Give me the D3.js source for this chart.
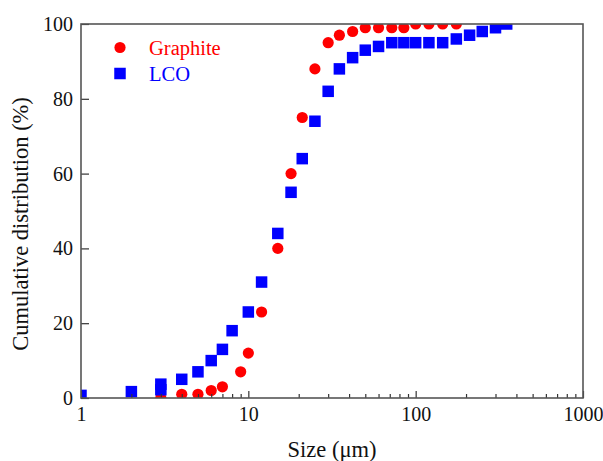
<!DOCTYPE html>
<html>
<head>
<meta charset="utf-8">
<script src="https://cdn.jsdelivr.net/npm/d3@7/dist/d3.min.js"></script>
<style>
  html, body { margin: 0; padding: 0; background: #fff; }
  svg { display: block; }
  text { font-family: "Liberation Serif", "Times New Roman", serif; }
</style>
</head>
<body>
<svg id="chart" width="603" height="461"></svg>
<script>
// Particle size (µm) and cumulative distribution (%) for each powder
const graphiteSize = [3, 4, 5, 6, 7, 9, 10, 12, 15, 18, 21, 25, 30, 35, 42, 50, 60, 72, 85, 100, 120, 145, 175];
const graphiteCum  = [0, 1, 1, 2, 3, 7, 12, 23, 40, 60, 75, 88, 95, 97, 98, 99, 99, 99, 99, 100, 100, 100, 100];

const lcoSize = [1, 2, 3, 3, 4, 5, 6, 7, 8, 10, 12, 15, 18, 21, 25, 30, 35, 42, 50, 60, 72, 85, 100, 120, 145, 175, 210, 250, 300, 350];
const lcoCum  = [0.7, 1.7, 3.7, 2.2, 5, 7, 10, 13, 18, 23, 31, 44, 55, 64, 74, 82, 88, 91, 93, 94, 95, 95, 95, 95, 95, 96, 97, 98, 99, 100];

const xMajorTicks = [1, 10, 100, 1000];
const xMinorTicks = [2, 3, 4, 5, 6, 7, 8, 9, 20, 30, 40, 50, 60, 70, 80, 90, 200, 300, 400, 500, 600, 700, 800, 900];
const yTicks = [0, 20, 40, 60, 80, 100];

const seriesNames = ["Graphite", "LCO"];
const seriesColors = ["#ff0000", "#0000ff"];

const plotLeft = 81, plotRight = 583, plotTop = 24, plotBottom = 398;
const tickFont = 20, titleFont = 22.5, legendFont = 20.5;

const svg = d3.select("#chart");

const x = d3.scaleLog().domain([1, 1000]).range([plotLeft, plotRight]);
const y = d3.scaleLinear().domain([0, 100]).range([plotBottom, plotTop]);

svg.append("defs").append("clipPath").attr("id", "plot-clip")
  .append("rect")
  .attr("x", plotLeft).attr("y", plotTop)
  .attr("width", plotRight - plotLeft).attr("height", plotBottom - plotTop);

// Markers
const plot = svg.append("g").attr("clip-path", "url(#plot-clip)");

plot.append("g").selectAll("circle")
  .data(graphiteSize.map((s, i) => [s, graphiteCum[i]]))
  .join("circle")
  .attr("cx", d => x(d[0]))
  .attr("cy", d => y(d[1]))
  .attr("r", 5.6)
  .attr("fill", seriesColors[0]);

const sq = 11.5;
plot.append("g").selectAll("rect")
  .data(lcoSize.map((s, i) => [s, lcoCum[i]]))
  .join("rect")
  .attr("x", d => x(d[0]) - sq / 2)
  .attr("y", d => y(d[1]) - sq / 2)
  .attr("width", sq)
  .attr("height", sq)
  .attr("fill", seriesColors[1]);

// Axes (ticks point into the plot)
const xAxis = svg.append("g")
  .attr("transform", `translate(0,${plotBottom})`)
  .call(d3.axisBottom(x).tickValues(xMajorTicks).tickFormat(d3.format("d"))
    .tickSize(-7).tickPadding(9));
xAxis.select(".domain").remove();
xAxis.selectAll("line").attr("stroke", "#333").attr("stroke-width", 1.2);
xAxis.selectAll("text").attr("font-size", tickFont).attr("fill", "#111")
  .attr("font-family", "Liberation Serif, Times New Roman, serif");

const xMinor = svg.append("g")
  .attr("transform", `translate(0,${plotBottom})`)
  .call(d3.axisBottom(x).tickValues(xMinorTicks).tickFormat("").tickSize(-4));
xMinor.select(".domain").remove();
xMinor.selectAll("line").attr("stroke", "#333").attr("stroke-width", 1.2);

const yAxis = svg.append("g")
  .attr("transform", `translate(${plotLeft},0)`)
  .call(d3.axisLeft(y).tickValues(yTicks).tickSize(-8).tickPadding(8));
yAxis.select(".domain").remove();
yAxis.selectAll("line").attr("stroke", "#333").attr("stroke-width", 1.2);
yAxis.selectAll("text").attr("font-size", tickFont).attr("fill", "#111")
  .attr("font-family", "Liberation Serif, Times New Roman, serif");

// Frame
svg.append("rect")
  .attr("x", plotLeft).attr("y", plotTop)
  .attr("width", plotRight - plotLeft).attr("height", plotBottom - plotTop)
  .attr("fill", "none")
  .attr("stroke", "#555")
  .attr("stroke-width", 1.6);

// Axis titles
svg.append("text")
  .attr("x", (plotLeft + plotRight) / 2)
  .attr("y", 457)
  .attr("text-anchor", "middle")
  .attr("font-size", titleFont)
  .attr("fill", "#111")
  .text("Size (\u03bcm)");

svg.append("text")
  .attr("transform", "translate(28,224) rotate(-90)")
  .attr("text-anchor", "middle")
  .attr("font-size", titleFont)
  .attr("fill", "#111")
  .text("Cumulative distribution (%)");

// Legend
const legend = svg.append("g");
legend.append("circle").attr("cx", 120).attr("cy", 47.5).attr("r", 5.6).attr("fill", seriesColors[0]);
legend.append("rect").attr("x", 120 - sq / 2).attr("y", 73.5 - sq / 2)
  .attr("width", sq).attr("height", sq).attr("fill", seriesColors[1]);
legend.selectAll("text.lg")
  .data(seriesNames)
  .join("text")
  .attr("class", "lg")
  .attr("x", 149)
  .attr("y", (d, i) => 54.5 + i * 26)
  .attr("font-size", legendFont)
  .attr("fill", (d, i) => seriesColors[i])
  .text(d => d);
</script>
</body>
</html>
